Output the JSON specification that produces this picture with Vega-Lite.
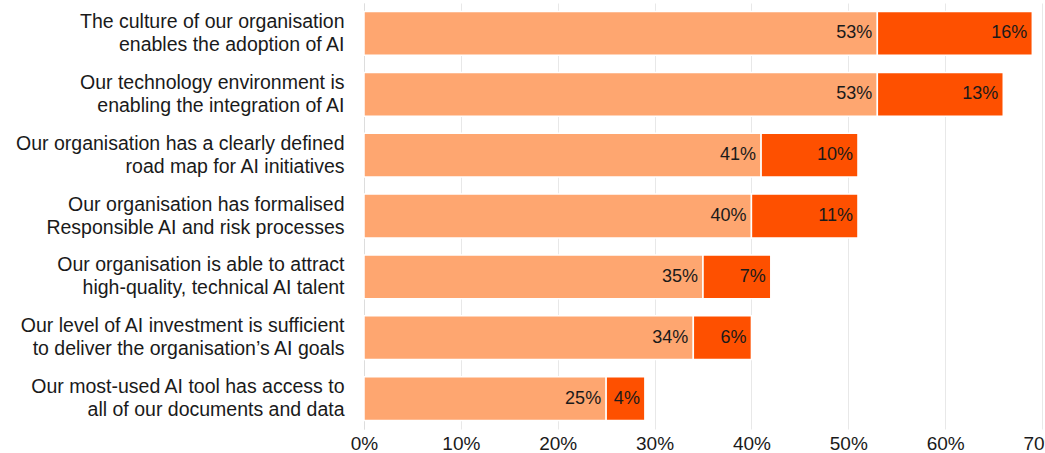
{
  "$schema": "https://vega.github.io/schema/vega-lite/v6.json",
  "autosize": {"type": "none"},
  "padding": {"left": 364, "top": 3, "right": 3, "bottom": 24},
  "width": 678,
  "height": 426,
  "background": "white",
  "config": {
    "view": {"stroke": null},
    "font": "Liberation Sans",
    "axis": {"labelFont": "Liberation Sans", "labelColor": "#1a1a1a", "labelFontSize": 19}
  },
  "data": {
    "values": [
      {"category": "The culture of our organisation|enables the adoption of AI", "segment": "a", "order": 1, "value": 0.53},
      {"category": "The culture of our organisation|enables the adoption of AI", "segment": "b", "order": 2, "value": 0.16},
      {"category": "Our technology environment is|enabling the integration of AI", "segment": "a", "order": 1, "value": 0.53},
      {"category": "Our technology environment is|enabling the integration of AI", "segment": "b", "order": 2, "value": 0.13},
      {"category": "Our organisation has a clearly defined|road map for AI initiatives", "segment": "a", "order": 1, "value": 0.41},
      {"category": "Our organisation has a clearly defined|road map for AI initiatives", "segment": "b", "order": 2, "value": 0.10},
      {"category": "Our organisation has formalised|Responsible AI and risk processes", "segment": "a", "order": 1, "value": 0.40},
      {"category": "Our organisation has formalised|Responsible AI and risk processes", "segment": "b", "order": 2, "value": 0.11},
      {"category": "Our organisation is able to attract|high-quality, technical AI talent", "segment": "a", "order": 1, "value": 0.35},
      {"category": "Our organisation is able to attract|high-quality, technical AI talent", "segment": "b", "order": 2, "value": 0.07},
      {"category": "Our level of AI investment is sufficient|to deliver the organisation’s AI goals", "segment": "a", "order": 1, "value": 0.34},
      {"category": "Our level of AI investment is sufficient|to deliver the organisation’s AI goals", "segment": "b", "order": 2, "value": 0.06},
      {"category": "Our most-used AI tool has access to|all of our documents and data", "segment": "a", "order": 1, "value": 0.25},
      {"category": "Our most-used AI tool has access to|all of our documents and data", "segment": "b", "order": 2, "value": 0.04}
    ]
  },
  "transform": [
    {"stack": "value", "groupby": ["category"], "sort": [{"field": "order"}], "as": ["v0", "v1"]}
  ],
  "encoding": {
    "y": {
      "field": "category",
      "type": "nominal",
      "sort": null,
      "scale": {"paddingInner": 0.28, "paddingOuter": 0.14},
      "axis": {
        "title": null,
        "labelExpr": "split(datum.label, '|')",
        "labelLimit": 400,
        "labelPadding": 20,
        "labelFontSize": 19.5,
        "labelLineHeight": 23,
        "labelOffset": -11.5,
        "ticks": false,
        "domain": true,
        "domainColor": "#dddddd",
        "domainWidth": 1
      }
    }
  },
  "layer": [
    {
      "mark": {"type": "bar", "stroke": "white", "strokeWidth": 1.5},
      "encoding": {
        "x": {
          "field": "v0",
          "type": "quantitative",
          "scale": {"domain": [0, 0.7], "nice": false},
          "axis": {
            "title": null,
            "format": ".0%",
            "values": [0, 0.1, 0.2, 0.3, 0.4, 0.5, 0.6, 0.7],
            "grid": true,
            "gridColor": "#e8e8e8",
            "gridWidth": 1,
            "domain": false,
            "ticks": false,
            "labelPadding": 5,
            "labelFlush": false,
            "labelOverlap": false
          }
        },
        "x2": {"field": "v1"},
        "color": {
          "field": "segment",
          "type": "nominal",
          "scale": {"domain": ["a", "b"], "range": ["#FEA670", "#FE5000"]},
          "legend": null
        }
      }
    },
    {
      "mark": {"type": "text", "align": "right", "baseline": "middle", "dx": -5, "fontSize": 18, "color": "#1a1a1a"},
      "encoding": {
        "x": {"field": "v1", "type": "quantitative"},
        "text": {"field": "value", "type": "quantitative", "format": ".0%"}
      }
    }
  ]
}
